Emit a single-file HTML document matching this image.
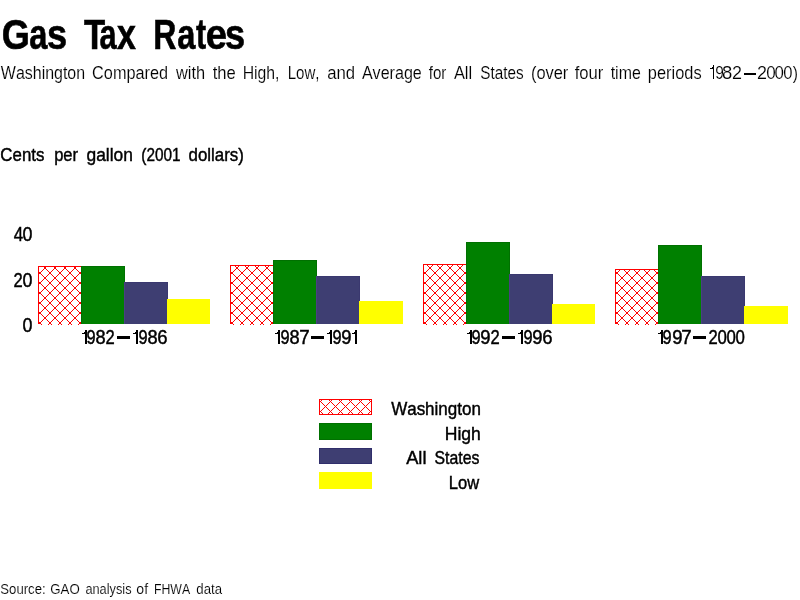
<!DOCTYPE html>
<html><head><meta charset="utf-8"><title>Gas Tax Rates</title>
<style>
html,body{margin:0;padding:0;background:#fff;}
body{width:800px;height:600px;overflow:hidden;}
svg{display:block;will-change:transform;}
text{font-family:"Liberation Sans",sans-serif;font-kerning:none;}
text.thin{stroke:#fff;stroke-width:0.15px;}
text.med{stroke:#000;stroke-width:0.45px;}
text.bold{stroke:#000;stroke-width:0.6px;}
</style></head><body>
<svg width="800" height="600" viewBox="0 0 800 600">
<defs><pattern id="h0" patternUnits="userSpaceOnUse" x="38" y="0" width="10" height="10"><g fill="#ff0000"><rect x="4" y="0" width="1" height="1"/><rect x="9" y="0" width="1" height="1"/><rect x="0" y="1" width="1" height="1"/><rect x="3" y="1" width="1" height="1"/><rect x="1" y="2" width="1" height="1"/><rect x="2" y="2" width="1" height="1"/><rect x="1" y="3" width="1" height="1"/><rect x="2" y="3" width="1" height="1"/><rect x="0" y="4" width="1" height="1"/><rect x="3" y="4" width="1" height="1"/><rect x="4" y="5" width="1" height="1"/><rect x="9" y="5" width="1" height="1"/><rect x="5" y="6" width="1" height="1"/><rect x="8" y="6" width="1" height="1"/><rect x="6" y="7" width="1" height="1"/><rect x="7" y="7" width="1" height="1"/><rect x="6" y="8" width="1" height="1"/><rect x="7" y="8" width="1" height="1"/><rect x="5" y="9" width="1" height="1"/><rect x="8" y="9" width="1" height="1"/></g></pattern>
<pattern id="h1" patternUnits="userSpaceOnUse" x="230" y="0" width="10" height="10"><g fill="#ff0000"><rect x="4" y="0" width="1" height="1"/><rect x="9" y="0" width="1" height="1"/><rect x="0" y="1" width="1" height="1"/><rect x="3" y="1" width="1" height="1"/><rect x="1" y="2" width="1" height="1"/><rect x="2" y="2" width="1" height="1"/><rect x="1" y="3" width="1" height="1"/><rect x="2" y="3" width="1" height="1"/><rect x="0" y="4" width="1" height="1"/><rect x="3" y="4" width="1" height="1"/><rect x="4" y="5" width="1" height="1"/><rect x="9" y="5" width="1" height="1"/><rect x="5" y="6" width="1" height="1"/><rect x="8" y="6" width="1" height="1"/><rect x="6" y="7" width="1" height="1"/><rect x="7" y="7" width="1" height="1"/><rect x="6" y="8" width="1" height="1"/><rect x="7" y="8" width="1" height="1"/><rect x="5" y="9" width="1" height="1"/><rect x="8" y="9" width="1" height="1"/></g></pattern>
<pattern id="h2" patternUnits="userSpaceOnUse" x="423" y="0" width="10" height="10"><g fill="#ff0000"><rect x="4" y="0" width="1" height="1"/><rect x="9" y="0" width="1" height="1"/><rect x="0" y="1" width="1" height="1"/><rect x="3" y="1" width="1" height="1"/><rect x="1" y="2" width="1" height="1"/><rect x="2" y="2" width="1" height="1"/><rect x="1" y="3" width="1" height="1"/><rect x="2" y="3" width="1" height="1"/><rect x="0" y="4" width="1" height="1"/><rect x="3" y="4" width="1" height="1"/><rect x="4" y="5" width="1" height="1"/><rect x="9" y="5" width="1" height="1"/><rect x="5" y="6" width="1" height="1"/><rect x="8" y="6" width="1" height="1"/><rect x="6" y="7" width="1" height="1"/><rect x="7" y="7" width="1" height="1"/><rect x="6" y="8" width="1" height="1"/><rect x="7" y="8" width="1" height="1"/><rect x="5" y="9" width="1" height="1"/><rect x="8" y="9" width="1" height="1"/></g></pattern>
<pattern id="h3" patternUnits="userSpaceOnUse" x="615" y="0" width="10" height="10"><g fill="#ff0000"><rect x="4" y="0" width="1" height="1"/><rect x="9" y="0" width="1" height="1"/><rect x="0" y="1" width="1" height="1"/><rect x="3" y="1" width="1" height="1"/><rect x="1" y="2" width="1" height="1"/><rect x="2" y="2" width="1" height="1"/><rect x="1" y="3" width="1" height="1"/><rect x="2" y="3" width="1" height="1"/><rect x="0" y="4" width="1" height="1"/><rect x="3" y="4" width="1" height="1"/><rect x="4" y="5" width="1" height="1"/><rect x="9" y="5" width="1" height="1"/><rect x="5" y="6" width="1" height="1"/><rect x="8" y="6" width="1" height="1"/><rect x="6" y="7" width="1" height="1"/><rect x="7" y="7" width="1" height="1"/><rect x="6" y="8" width="1" height="1"/><rect x="7" y="8" width="1" height="1"/><rect x="5" y="9" width="1" height="1"/><rect x="8" y="9" width="1" height="1"/></g></pattern>
<pattern id="lh" patternUnits="userSpaceOnUse" x="0" y="0" width="10" height="10"><g fill="#ff0000"><rect x="1" y="0" width="1" height="1"/><rect x="9" y="0" width="1" height="1"/><rect x="0" y="1" width="1" height="1"/><rect x="1" y="2" width="1" height="1"/><rect x="9" y="2" width="1" height="1"/><rect x="2" y="3" width="1" height="1"/><rect x="8" y="3" width="1" height="1"/><rect x="3" y="4" width="1" height="1"/><rect x="7" y="4" width="1" height="1"/><rect x="4" y="5" width="1" height="1"/><rect x="6" y="5" width="1" height="1"/><rect x="5" y="6" width="1" height="1"/><rect x="4" y="7" width="1" height="1"/><rect x="6" y="7" width="1" height="1"/><rect x="3" y="8" width="1" height="1"/><rect x="7" y="8" width="1" height="1"/><rect x="2" y="9" width="1" height="1"/><rect x="8" y="9" width="1" height="1"/></g></pattern></defs>
<rect width="800" height="600" fill="#fff"/>
<g shape-rendering="crispEdges">
<rect x="38" y="266" width="43" height="59" fill="url(#h0)"/>
<rect x="38" y="266" width="43" height="1" fill="#ff0000"/>
<rect x="38" y="266" width="1" height="58" fill="#ff0000"/>
<rect x="38" y="324" width="1" height="1" fill="#fff"/>
<rect x="81" y="266" width="44" height="58" fill="#008000"/>
<rect x="81" y="266" width="44" height="1" fill="#007000"/>
<rect x="81" y="266" width="1" height="58" fill="#007000"/>
<rect x="124" y="266" width="1" height="58" fill="#007000"/>
<rect x="124" y="282" width="44" height="42" fill="#3e3e72"/>
<rect x="124" y="282" width="44" height="1" fill="#3a386f"/>
<rect x="124" y="282" width="1" height="42" fill="#4a4082"/>
<rect x="167" y="282" width="1" height="42" fill="#3a386f"/>
<rect x="167" y="299" width="43" height="25" fill="#ffff00"/>
<rect x="230" y="265" width="43" height="60" fill="url(#h1)"/>
<rect x="230" y="265" width="43" height="1" fill="#ff0000"/>
<rect x="230" y="265" width="1" height="59" fill="#ff0000"/>
<rect x="230" y="324" width="1" height="1" fill="#fff"/>
<rect x="273" y="260" width="44" height="64" fill="#008000"/>
<rect x="273" y="260" width="44" height="1" fill="#007000"/>
<rect x="273" y="260" width="1" height="64" fill="#007000"/>
<rect x="316" y="260" width="1" height="64" fill="#007000"/>
<rect x="316" y="276" width="44" height="48" fill="#3e3e72"/>
<rect x="316" y="276" width="44" height="1" fill="#3a386f"/>
<rect x="316" y="276" width="1" height="48" fill="#4a4082"/>
<rect x="359" y="276" width="1" height="48" fill="#3a386f"/>
<rect x="359" y="301" width="44" height="23" fill="#ffff00"/>
<rect x="423" y="264" width="43" height="61" fill="url(#h2)"/>
<rect x="423" y="264" width="43" height="1" fill="#ff0000"/>
<rect x="423" y="264" width="1" height="60" fill="#ff0000"/>
<rect x="423" y="324" width="1" height="1" fill="#fff"/>
<rect x="466" y="242" width="44" height="82" fill="#008000"/>
<rect x="466" y="242" width="44" height="1" fill="#007000"/>
<rect x="466" y="242" width="1" height="82" fill="#007000"/>
<rect x="509" y="242" width="1" height="82" fill="#007000"/>
<rect x="509" y="274" width="44" height="50" fill="#3e3e72"/>
<rect x="509" y="274" width="44" height="1" fill="#3a386f"/>
<rect x="509" y="274" width="1" height="50" fill="#4a4082"/>
<rect x="552" y="274" width="1" height="50" fill="#3a386f"/>
<rect x="552" y="304" width="43" height="20" fill="#ffff00"/>
<rect x="615" y="269" width="43" height="56" fill="url(#h3)"/>
<rect x="615" y="269" width="43" height="1" fill="#ff0000"/>
<rect x="615" y="269" width="1" height="55" fill="#ff0000"/>
<rect x="615" y="324" width="1" height="1" fill="#fff"/>
<rect x="658" y="245" width="44" height="79" fill="#008000"/>
<rect x="658" y="245" width="44" height="1" fill="#007000"/>
<rect x="658" y="245" width="1" height="79" fill="#007000"/>
<rect x="701" y="245" width="1" height="79" fill="#007000"/>
<rect x="701" y="276" width="44" height="48" fill="#3e3e72"/>
<rect x="701" y="276" width="44" height="1" fill="#3a386f"/>
<rect x="701" y="276" width="1" height="48" fill="#4a4082"/>
<rect x="744" y="276" width="1" height="48" fill="#3a386f"/>
<rect x="744" y="306" width="44" height="18" fill="#ffff00"/>
<rect x="319" y="399" width="53" height="16" fill="#fff"/>
<rect x="320" y="400" width="51" height="14" fill="url(#lh)"/>
<path d="M319 399h53v16h-53zM320 400v14h51v-14z" fill="#ff0000" fill-rule="evenodd"/>
<rect x="319" y="423" width="53" height="17" fill="#007000"/>
<rect x="320" y="424" width="51" height="15" fill="#008000"/>
<rect x="319" y="448" width="53" height="16" fill="#302e6b"/>
<rect x="320" y="449" width="51" height="14" fill="#3e3e72"/>
<rect x="319" y="472" width="53" height="17" fill="#ffff00"/>
</g>
<text x="1.82" y="49.00" font-size="42.00" font-weight="bold" textLength="28.13" lengthAdjust="spacingAndGlyphs" fill="#000" class="bold">G</text>
<text x="29.34" y="49.00" font-size="42.00" font-weight="bold" textLength="18.15" lengthAdjust="spacingAndGlyphs" fill="#000" class="bold">a</text>
<text x="47.03" y="49.00" font-size="42.00" font-weight="bold" textLength="20.16" lengthAdjust="spacingAndGlyphs" fill="#000" class="bold">s</text>
<text x="83.91" y="49.00" font-size="42.00" font-weight="bold" textLength="21.16" lengthAdjust="spacingAndGlyphs" fill="#000" class="bold">T</text>
<text x="99.40" y="49.00" font-size="42.00" font-weight="bold" textLength="17.11" lengthAdjust="spacingAndGlyphs" fill="#000" class="bold">a</text>
<text x="117.07" y="49.00" font-size="42.00" font-weight="bold" textLength="18.88" lengthAdjust="spacingAndGlyphs" fill="#000" class="bold">x</text>
<text x="153.15" y="49.00" font-size="42.00" font-weight="bold" textLength="23.21" lengthAdjust="spacingAndGlyphs" fill="#000" class="bold">R</text>
<text x="177.34" y="49.00" font-size="42.00" font-weight="bold" textLength="18.15" lengthAdjust="spacingAndGlyphs" fill="#000" class="bold">a</text>
<text x="195.93" y="49.00" font-size="42.00" font-weight="bold" textLength="10.14" lengthAdjust="spacingAndGlyphs" fill="#000" class="bold">t</text>
<text x="205.81" y="49.00" font-size="42.00" font-weight="bold" textLength="21.19" lengthAdjust="spacingAndGlyphs" fill="#000" class="bold">e</text>
<text x="225.03" y="49.00" font-size="42.00" font-weight="bold" textLength="20.16" lengthAdjust="spacingAndGlyphs" fill="#000" class="bold">s</text>
<text x="0.85" y="79.00" font-size="19.20" font-weight="normal" textLength="84.26" lengthAdjust="spacingAndGlyphs" fill="#000" class="thin">Washington</text>
<text x="92.10" y="79.00" font-size="19.20" font-weight="normal" textLength="76.03" lengthAdjust="spacingAndGlyphs" fill="#000" class="thin">Compared</text>
<text x="175.95" y="79.00" font-size="19.20" font-weight="normal" textLength="29.19" lengthAdjust="spacingAndGlyphs" fill="#000" class="thin">with</text>
<text x="212.67" y="79.00" font-size="19.20" font-weight="normal" textLength="23.14" lengthAdjust="spacingAndGlyphs" fill="#000" class="thin">the</text>
<text x="242.63" y="79.00" font-size="19.20" font-weight="normal" textLength="36.86" lengthAdjust="spacingAndGlyphs" fill="#000" class="thin">High,</text>
<text x="287.69" y="79.00" font-size="19.20" font-weight="normal" textLength="31.73" lengthAdjust="spacingAndGlyphs" fill="#000" class="thin">Low,</text>
<text x="327.21" y="79.00" font-size="19.20" font-weight="normal" textLength="27.94" lengthAdjust="spacingAndGlyphs" fill="#000" class="thin">and</text>
<text x="361.89" y="79.00" font-size="19.20" font-weight="normal" textLength="59.90" lengthAdjust="spacingAndGlyphs" fill="#000" class="thin">Average</text>
<text x="428.71" y="79.00" font-size="19.20" font-weight="normal" textLength="17.61" lengthAdjust="spacingAndGlyphs" fill="#000" class="thin">for</text>
<text x="453.89" y="79.00" font-size="19.20" font-weight="normal" textLength="18.28" lengthAdjust="spacingAndGlyphs" fill="#000" class="thin">All</text>
<text x="480.23" y="79.00" font-size="19.20" font-weight="normal" textLength="43.40" lengthAdjust="spacingAndGlyphs" fill="#000" class="thin">States</text>
<text x="530.91" y="79.00" font-size="19.20" font-weight="normal" textLength="37.44" lengthAdjust="spacingAndGlyphs" fill="#000" class="thin">(over</text>
<text x="574.69" y="79.00" font-size="19.20" font-weight="normal" textLength="28.66" lengthAdjust="spacingAndGlyphs" fill="#000" class="thin">four</text>
<text x="610.68" y="79.00" font-size="19.20" font-weight="normal" textLength="30.10" lengthAdjust="spacingAndGlyphs" fill="#000" class="thin">time</text>
<text x="647.87" y="79.00" font-size="19.20" font-weight="normal" textLength="53.80" lengthAdjust="spacingAndGlyphs" fill="#000" class="thin">periods</text>
<rect x="744" y="73" width="12" height="2" fill="#000"/>
<path d="M713 65h1v14h-1zM710 68h3v1h-3zM712 67h1v1h-1z" fill="#000"/>
<text x="715.20" y="79.00" font-size="19.20" font-weight="normal" textLength="8.61" lengthAdjust="spacingAndGlyphs" fill="#000" class="thin">9</text>
<text x="722.12" y="79.00" font-size="19.20" font-weight="normal" textLength="10.25" lengthAdjust="spacingAndGlyphs" fill="#000" class="thin">8</text>
<text x="732.03" y="79.00" font-size="19.20" font-weight="normal" textLength="9.95" lengthAdjust="spacingAndGlyphs" fill="#000" class="thin">2</text>
<text x="757.03" y="79.00" font-size="19.20" font-weight="normal" textLength="9.95" lengthAdjust="spacingAndGlyphs" fill="#000" class="thin">2</text>
<text x="766.26" y="79.00" font-size="19.20" font-weight="normal" textLength="9.48" lengthAdjust="spacingAndGlyphs" fill="#000" class="thin">0</text>
<text x="774.57" y="79.00" font-size="19.20" font-weight="normal" textLength="9.37" lengthAdjust="spacingAndGlyphs" fill="#000" class="thin">0</text>
<text x="783.28" y="79.00" font-size="19.20" font-weight="normal" textLength="9.25" lengthAdjust="spacingAndGlyphs" fill="#000" class="thin">0</text>
<text x="792.83" y="79.00" font-size="19.20" font-weight="normal" textLength="5.21" lengthAdjust="spacingAndGlyphs" fill="#000" class="thin">)</text>
<text x="0.37" y="161.00" font-size="19.20" font-weight="normal" textLength="44.01" lengthAdjust="spacingAndGlyphs" fill="#000" class="med">Cents</text>
<text x="54.16" y="161.00" font-size="19.20" font-weight="normal" textLength="23.89" lengthAdjust="spacingAndGlyphs" fill="#000" class="med">per</text>
<text x="86.49" y="161.00" font-size="19.20" font-weight="normal" textLength="46.41" lengthAdjust="spacingAndGlyphs" fill="#000" class="med">gallon</text>
<text x="141.27" y="161.00" font-size="19.20" font-weight="normal" textLength="39.25" lengthAdjust="spacingAndGlyphs" fill="#000" class="med">(2001</text>
<text x="188.52" y="161.00" font-size="19.20" font-weight="normal" textLength="55.30" lengthAdjust="spacingAndGlyphs" fill="#000" class="med">dollars)</text>
<text x="13.84" y="241.00" font-size="19.50" font-weight="normal" textLength="9.44" lengthAdjust="spacingAndGlyphs" fill="#000" class="med">4</text>
<text x="22.53" y="241.00" font-size="19.50" font-weight="normal" textLength="9.95" lengthAdjust="spacingAndGlyphs" fill="#000" class="med">0</text>
<text x="13.39" y="287.00" font-size="19.50" font-weight="normal" textLength="9.22" lengthAdjust="spacingAndGlyphs" fill="#000" class="med">2</text>
<text x="22.53" y="287.00" font-size="19.50" font-weight="normal" textLength="9.95" lengthAdjust="spacingAndGlyphs" fill="#000" class="med">0</text>
<text x="22.53" y="332.00" font-size="19.50" font-weight="normal" textLength="9.95" lengthAdjust="spacingAndGlyphs" fill="#000" class="med">0</text>
<path d="M85 330h2v14h-2zM82 333h3v1h-3zM84 332h1v1h-1z" fill="#000"/>
<text x="86.46" y="344.00" font-size="19.50" font-weight="normal" textLength="9.09" lengthAdjust="spacingAndGlyphs" fill="#000" class="med">9</text>
<text x="95.43" y="344.00" font-size="19.50" font-weight="normal" textLength="10.13" lengthAdjust="spacingAndGlyphs" fill="#000" class="med">8</text>
<text x="105.39" y="344.00" font-size="19.50" font-weight="normal" textLength="9.22" lengthAdjust="spacingAndGlyphs" fill="#000" class="med">2</text>
<rect x="117" y="336" width="13" height="3" fill="#000"/>
<path d="M136 330h2v14h-2zM133 333h3v1h-3zM135 332h1v1h-1z" fill="#000"/>
<text x="138.46" y="344.00" font-size="19.50" font-weight="normal" textLength="9.09" lengthAdjust="spacingAndGlyphs" fill="#000" class="med">9</text>
<text x="147.43" y="344.00" font-size="19.50" font-weight="normal" textLength="10.13" lengthAdjust="spacingAndGlyphs" fill="#000" class="med">8</text>
<text x="157.28" y="344.00" font-size="19.50" font-weight="normal" textLength="10.31" lengthAdjust="spacingAndGlyphs" fill="#000" class="med">6</text>
<path d="M278 330h2v14h-2zM275 333h3v1h-3zM277 332h1v1h-1z" fill="#000"/>
<text x="280.46" y="344.00" font-size="19.50" font-weight="normal" textLength="9.09" lengthAdjust="spacingAndGlyphs" fill="#000" class="med">9</text>
<text x="289.43" y="344.00" font-size="19.50" font-weight="normal" textLength="10.13" lengthAdjust="spacingAndGlyphs" fill="#000" class="med">8</text>
<text x="299.26" y="344.00" font-size="19.50" font-weight="normal" textLength="10.46" lengthAdjust="spacingAndGlyphs" fill="#000" class="med">7</text>
<rect x="311" y="336" width="13" height="3" fill="#000"/>
<path d="M330 330h2v14h-2zM327 333h3v1h-3zM329 332h1v1h-1z" fill="#000"/>
<text x="332.46" y="344.00" font-size="19.50" font-weight="normal" textLength="9.09" lengthAdjust="spacingAndGlyphs" fill="#000" class="med">9</text>
<text x="341.36" y="344.00" font-size="19.50" font-weight="normal" textLength="10.29" lengthAdjust="spacingAndGlyphs" fill="#000" class="med">9</text>
<path d="M355 330h2v14h-2zM352 333h3v1h-3zM354 332h1v1h-1z" fill="#000"/>
<path d="M470 330h2v14h-2zM467 333h3v1h-3zM469 332h1v1h-1z" fill="#000"/>
<text x="471.46" y="344.00" font-size="19.50" font-weight="normal" textLength="9.09" lengthAdjust="spacingAndGlyphs" fill="#000" class="med">9</text>
<text x="480.36" y="344.00" font-size="19.50" font-weight="normal" textLength="10.29" lengthAdjust="spacingAndGlyphs" fill="#000" class="med">9</text>
<text x="490.39" y="344.00" font-size="19.50" font-weight="normal" textLength="9.22" lengthAdjust="spacingAndGlyphs" fill="#000" class="med">2</text>
<rect x="502" y="336" width="13" height="3" fill="#000"/>
<path d="M521 330h2v14h-2zM518 333h3v1h-3zM520 332h1v1h-1z" fill="#000"/>
<text x="523.46" y="344.00" font-size="19.50" font-weight="normal" textLength="9.09" lengthAdjust="spacingAndGlyphs" fill="#000" class="med">9</text>
<text x="532.36" y="344.00" font-size="19.50" font-weight="normal" textLength="10.29" lengthAdjust="spacingAndGlyphs" fill="#000" class="med">9</text>
<text x="542.28" y="344.00" font-size="19.50" font-weight="normal" textLength="10.31" lengthAdjust="spacingAndGlyphs" fill="#000" class="med">6</text>
<path d="M661 330h2v14h-2zM658 333h3v1h-3zM660 332h1v1h-1z" fill="#000"/>
<text x="662.46" y="344.00" font-size="19.50" font-weight="normal" textLength="9.09" lengthAdjust="spacingAndGlyphs" fill="#000" class="med">9</text>
<text x="672.36" y="344.00" font-size="19.50" font-weight="normal" textLength="10.29" lengthAdjust="spacingAndGlyphs" fill="#000" class="med">9</text>
<text x="681.26" y="344.00" font-size="19.50" font-weight="normal" textLength="10.46" lengthAdjust="spacingAndGlyphs" fill="#000" class="med">7</text>
<rect x="693" y="336" width="13" height="3" fill="#000"/>
<text x="708.39" y="344.00" font-size="19.50" font-weight="normal" textLength="9.22" lengthAdjust="spacingAndGlyphs" fill="#000" class="med">2</text>
<text x="717.57" y="344.00" font-size="19.50" font-weight="normal" textLength="9.37" lengthAdjust="spacingAndGlyphs" fill="#000" class="med">0</text>
<text x="726.57" y="344.00" font-size="19.50" font-weight="normal" textLength="9.37" lengthAdjust="spacingAndGlyphs" fill="#000" class="med">0</text>
<text x="735.57" y="344.00" font-size="19.50" font-weight="normal" textLength="9.37" lengthAdjust="spacingAndGlyphs" fill="#000" class="med">0</text>
<text x="391.15" y="415.00" font-size="19.20" font-weight="normal" textLength="89.73" lengthAdjust="spacingAndGlyphs" fill="#000" class="med">Washington</text>
<text x="444.78" y="440.00" font-size="19.20" font-weight="normal" textLength="36.13" lengthAdjust="spacingAndGlyphs" fill="#000" class="med">High</text>
<text x="406.19" y="464.00" font-size="19.20" font-weight="normal" textLength="20.31" lengthAdjust="spacingAndGlyphs" fill="#000" class="med">All</text>
<text x="434.51" y="464.00" font-size="19.20" font-weight="normal" textLength="44.84" lengthAdjust="spacingAndGlyphs" fill="#000" class="med">States</text>
<text x="448.87" y="489.00" font-size="19.20" font-weight="normal" textLength="30.37" lengthAdjust="spacingAndGlyphs" fill="#000" class="med">Low</text>
<text x="0.33" y="594.00" font-size="15.50" font-weight="normal" textLength="45.35" lengthAdjust="spacingAndGlyphs" fill="#000" class="thin">Source:</text>
<text x="50.26" y="594.00" font-size="15.50" font-weight="normal" textLength="29.45" lengthAdjust="spacingAndGlyphs" fill="#000" class="thin">GAO</text>
<text x="85.38" y="594.00" font-size="15.50" font-weight="normal" textLength="46.15" lengthAdjust="spacingAndGlyphs" fill="#000" class="thin">analysis</text>
<text x="136.33" y="594.00" font-size="15.50" font-weight="normal" textLength="11.72" lengthAdjust="spacingAndGlyphs" fill="#000" class="thin">of</text>
<text x="153.92" y="594.00" font-size="15.50" font-weight="normal" textLength="36.18" lengthAdjust="spacingAndGlyphs" fill="#000" class="thin">FHWA</text>
<text x="196.37" y="594.00" font-size="15.50" font-weight="normal" textLength="25.70" lengthAdjust="spacingAndGlyphs" fill="#000" class="thin">data</text>
</svg>
</body></html>
